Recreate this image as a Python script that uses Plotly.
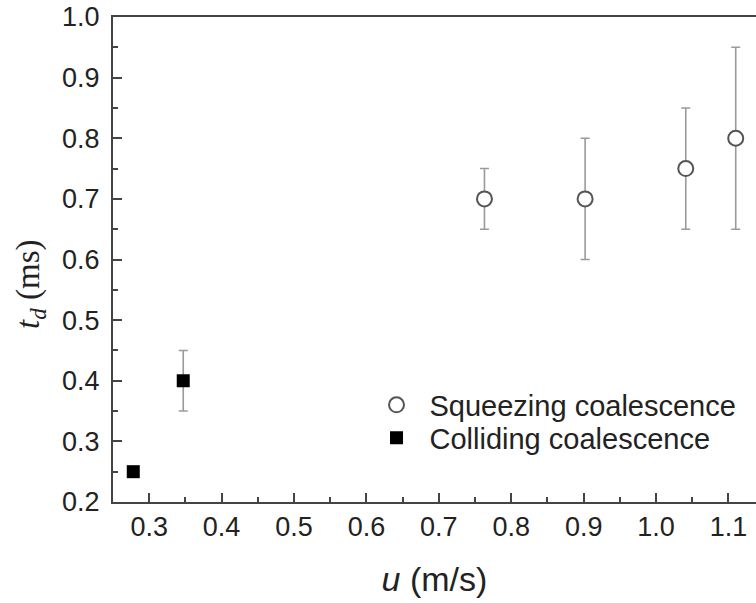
import plotly.graph_objects as go

# Squeezing coalescence
sq_u = [0.763, 0.902, 1.041, 1.110]
sq_t = [0.70, 0.70, 0.75, 0.80]
sq_err = [0.05, 0.10, 0.10, 0.15]

# Colliding coalescence
co_u = [0.278, 0.347]
co_t = [0.25, 0.40]
co_err = [0.0, 0.05]

SANS = "Liberation Sans, Arial, sans-serif"
SERIF = "Liberation Serif, Times New Roman, serif"
AX = "#444444"

fig = go.Figure()
fig.add_trace(go.Scatter(
    x=sq_u, y=sq_t, mode="markers", name="Squeezing coalescence",
    marker=dict(symbol="circle", size=15, color="white",
                line=dict(color="#555555", width=2)),
    error_y=dict(type="data", array=sq_err, visible=True,
                 color="#9a9a9a", thickness=1.6, width=4.5),
    legend="legend",
))
fig.add_trace(go.Scatter(
    x=co_u, y=co_t, mode="markers", name="Colliding coalescence",
    marker=dict(symbol="square", size=13, color="black",
                line=dict(color="black", width=0)),
    error_y=dict(type="data", array=co_err, visible=True,
                 color="#9a9a9a", thickness=1.6, width=4.5),
    legend="legend2",
))

leg_common = dict(xanchor="left", yanchor="middle", bgcolor="rgba(0,0,0,0)",
                  font=dict(family=SANS, size=29, color="#222222"), itemwidth=56)

fig.update_layout(
    width=756, height=603,
    margin=dict(l=113, r=0, t=17, b=101),
    plot_bgcolor="white", paper_bgcolor="white",
    font=dict(family=SANS, size=27, color="#222222"),
    showlegend=True,
    legend=dict(x=0.3896, y=0.20, **leg_common),
    legend2=dict(x=0.3896, y=0.132, **leg_common),
    xaxis=dict(
        range=[0.25, 1.138], showgrid=False, zeroline=False,
        showline=True, linecolor=AX, linewidth=2, mirror=True,
        ticks="inside", ticklen=9, tickwidth=2, tickcolor=AX,
        dtick=0.1, tick0=0.3, tickformat=".1f",
        tickfont=dict(family=SANS, size=27, color="#222222"),
        minor=dict(ticks="inside", ticklen=5, tickwidth=2, tickcolor=AX, dtick=0.05),
        title=dict(text="<i>u</i> (m/s)", font=dict(family=SANS, size=34, color="#222222"), standoff=26),
    ),
    yaxis=dict(
        range=[0.2, 1.0], showgrid=False, zeroline=False,
        showline=True, linecolor=AX, linewidth=2, mirror=False,
        ticks="inside", ticklen=9, tickwidth=2, tickcolor=AX,
        dtick=0.1, tickformat=".1f", ticklabelstandoff=6,
        tickfont=dict(family=SANS, size=27, color="#222222"),
        minor=dict(ticks="inside", ticklen=5, tickwidth=2, tickcolor=AX, dtick=0.05),
    ),
    annotations=[dict(
        text="<i>t</i><sub><i>d</i></sub> (ms)", textangle=-90,
        xref="paper", yref="paper", x=(30 - 113) / 643, y=(502 - 285) / 485,
        xanchor="center", yanchor="middle", showarrow=False,
        font=dict(family=SERIF, size=33, color="#222222"),
    )],
)

fig.write_html("out.html", config={"displayModeBar": False},
               post_script="document.body.style.margin='0';")
